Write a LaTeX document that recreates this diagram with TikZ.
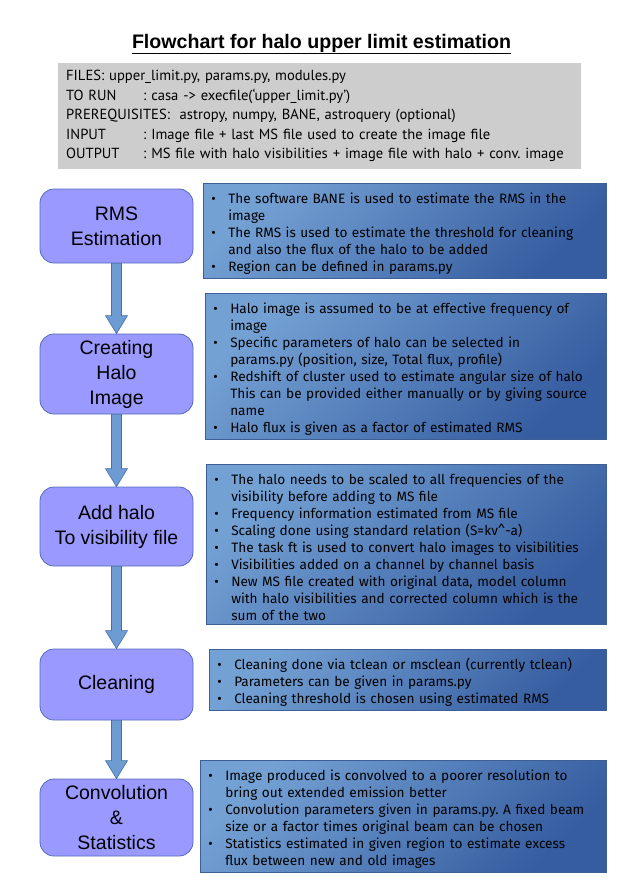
\documentclass[tikz,border=0pt]{standalone}
\usepackage{fontspec}
\setmainfont{Liberation Sans}
\newfontfamily\notefont{Fira Sans}
\newfontfamily\filefont{PT Sans}
\usetikzlibrary{calc}
\definecolor{lavbox}{RGB}{153,153,255}
\definecolor{lavedge}{RGB}{84,108,184}
\definecolor{arrfill}{RGB}{110,155,210}
\definecolor{arredge}{RGB}{65,113,170}
\definecolor{notelight}{RGB}{116,161,212}
\definecolor{notedark}{RGB}{54,93,160}
\definecolor{noteedge}{RGB}{60,95,150}
\definecolor{filegray}{RGB}{205,205,205}
\newcommand{\bul}{\par\noindent\hangindent=17pt\hangafter=1\makebox[17pt][l]{\textbullet}}
\newcommand{\tabto}[1]{\makebox[77pt][l]{#1}}
\frenchspacing

\begin{document}
\begin{tikzpicture}[x=1pt,y=-1pt,
	stage/.style={draw=lavedge,fill=lavbox,line width=0.8pt,rounded corners=14pt,
		minimum width=153pt,align=center,font=\fontsize{19.5}{25}\selectfont},
	note/.style={draw=noteedge,line width=0.5pt,top color=notelight,bottom color=notedark,
		shading angle=45,anchor=north west,inner xsep=8pt,align=left,
		font=\notefont\fontsize{13.6}{17}\selectfont},
	flowarrow/.style={draw=arredge,fill=arrfill,line width=0.6pt}]
\useasboundingbox (0,0) rectangle (628,887);

\node[font=\bfseries\fontsize{19.6}{22}\selectfont] (title) at (321.5,44)
	{\underline{Flowchart for halo upper limit estimation}};

\node[fill=filegray,anchor=north west,minimum width=523pt,minimum height=106pt,
	text width=507pt,inner xsep=8pt,align=left,
	font=\filefont\fontsize{14.6}{19.5}\selectfont] (files) at (58,63)
	{FILES: upper\_limit.py, params.py, modules.py\\
	\tabto{TO RUN}: casa -{}> execfile(‘upper\_limit.py’)\\
	PREREQUISITES:\ \ astropy, numpy, BANE, astroquery (optional)\\
	\tabto{INPUT}: Image file + last MS file used to create the image file\\
	\tabto{OUTPUT}: MS file with halo visibilities + image file with halo + conv. image};

\node[stage,minimum height=74pt] (rms) at (116.5,226) {RMS\\Estimation};
\node[stage,minimum height=80pt] (halo) at (116.5,374) {Creating\\Halo\\Image};
\node[stage,minimum height=79pt] (add) at (116.5,526.5) {Add halo\\To visibility file};
\node[stage,minimum height=71pt] (clean) at (116.5,684.5) {Cleaning};
\node[stage,minimum height=77pt] (conv) at (116.5,817.5) {Convolution\\\&\\Statistics};

\node[note,minimum width=403pt,text width=387pt,minimum height=94pt] (rmsnote) at (203,183)
	{\bul The software BANE is used to estimate the RMS in the\newline image
	\bul The RMS is used to estimate the threshold for cleaning\newline and also the flux of the halo to be added
	\bul Region can be defined in params.py\par};
\node[note,minimum width=401pt,text width=385pt,minimum height=146pt] (halonote) at (205,293)
	{\bul Halo image is assumed to be at effective frequency of\newline image
	\bul Specific parameters of halo can be selected in\newline params.py (position, size, Total flux, profile)
	\bul Redshift of cluster used to estimate angular size of halo\newline This can be provided either manually or by giving source\newline name
	\bul Halo flux is given as a factor of estimated RMS\par};
\node[note,minimum width=400pt,text width=384pt,minimum height=160pt] (addnote) at (206,464)
	{\bul The halo needs to be scaled to all frequencies of the\newline visibility before adding to MS file
	\bul Frequency information estimated from MS file
	\bul Scaling done using standard relation (S=kv\textasciicircum-a)
	\bul The task ft is used to convert halo images to visibilities
	\bul Visibilities added on a channel by channel basis
	\bul New MS file created with original data, model column\newline with halo visibilities and corrected column which is the\newline sum of the two\par};
\node[note,minimum width=397pt,text width=381pt,minimum height=60pt] (cleannote) at (209,649)
	{\bul Cleaning done via tclean or msclean (currently tclean)
	\bul Parameters can be given in params.py
	\bul Cleaning threshold is chosen using estimated RMS\par};
\node[note,minimum width=406pt,text width=390pt,minimum height=111pt] (convnote) at (200,760)
	{\bul Image produced is convolved to a poorer resolution to\newline bring out extended emission better
	\bul Convolution parameters given in params.py. A fixed beam\newline size or a factor times original beam can be chosen
	\bul Statistics estimated in given region to estimate excess\newline flux between new and old images\par};

\foreach \a/\b in {rms/halo,halo/add,add/clean,clean/conv}
	\draw[flowarrow] ($(\a.south)+(-5,0)$) -- ($(\b.north)+(-5,-18)$) -- ++(-6,0)
		-- (\b.north) -- ($(\b.north)+(11,-18)$) -- ++(-6,0) -- ($(\a.south)+(5,0)$) -- cycle;
\end{tikzpicture}
\end{document}
